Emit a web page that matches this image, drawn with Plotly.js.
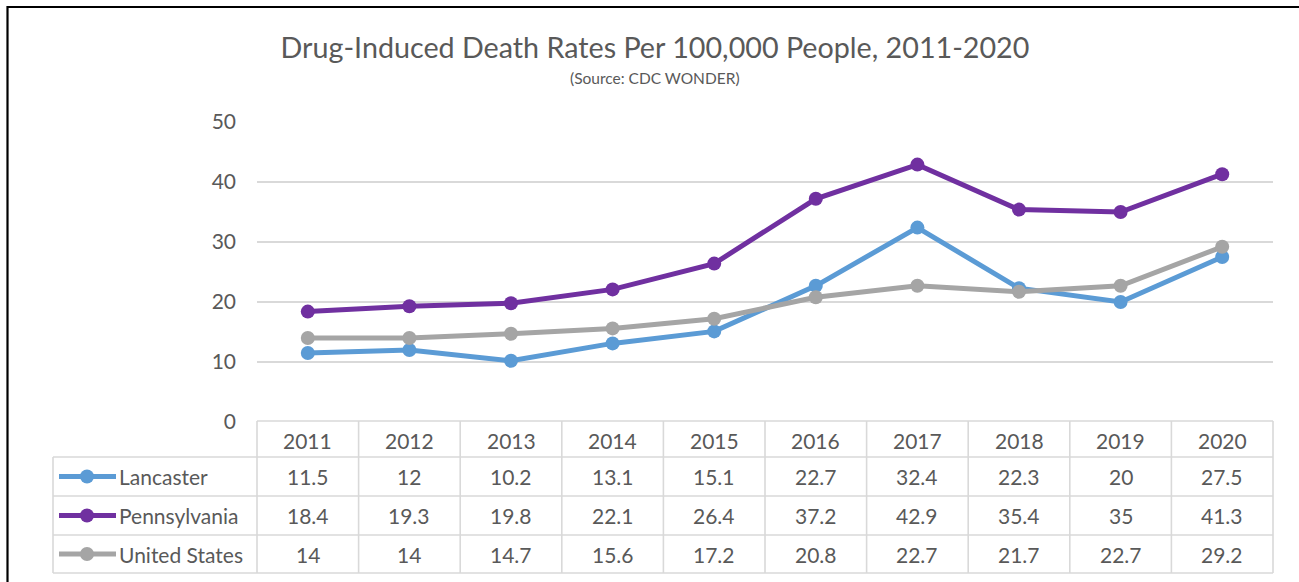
<!DOCTYPE html>
<html>
<head>
<meta charset="utf-8">
<script src="https://cdn.plot.ly/plotly-3.0.1.min.js"></script>
<style>
  html, body { margin: 0; padding: 0; background: #ffffff; }
  #chart { width: 1299px; height: 582px; }
</style>
</head>
<body>
<div id="chart"></div>
<script>
// Drug-induced death rates per 100,000 people
const years = ['2011', '2012', '2013', '2014', '2015', '2016', '2017', '2018', '2019', '2020'];
const lancaster = [11.5, 12, 10.2, 13.1, 15.1, 22.7, 32.4, 22.3, 20, 27.5];
const pennsylvania = [18.4, 19.3, 19.8, 22.1, 26.4, 37.2, 42.9, 35.4, 35, 41.3];
const unitedStates = [14, 14, 14.7, 15.6, 17.2, 20.8, 22.7, 21.7, 22.7, 29.2];
const seriesNames = ['Lancaster', 'Pennsylvania', 'United States'];
const yTicks = [0, 10, 20, 30, 40, 50];

const seriesValues = [lancaster, pennsylvania, unitedStates];
const seriesColors = ['#5B9BD5', '#7030A0', '#A5A5A5'];

const FONT = 'Lato, "Open Sans", "DejaVu Sans", sans-serif';
const TEXT = '#595959';
const GRID = '#D9D9D9';

// plot area geometry (pixels)
const W = 1299, H = 582;
const PL = 257, PR = 1273, PT = 122, PB = 422;
const pw = PR - PL, ph = PB - PT;
const px = p => (p - PL) / pw;   // pixel x -> paper x
const py = p => (PB - p) / ph;   // pixel y -> paper y

// data table geometry (pixels)
const tableLeft = 53;
const rowEdges = [421, 457, 496, 535, 573];
const colW = pw / years.length;

const traces = seriesNames.map((name, i) => ({
  type: 'scatter',
  mode: 'lines+markers',
  name: name,
  x: years,
  y: seriesValues[i],
  line: { color: seriesColors[i], width: 5 },
  marker: { color: seriesColors[i], size: 14 },
  hoverinfo: 'skip'
}));

const shapes = [];
const annotations = [];
const line = (x0, y0, x1, y1, color, width) => shapes.push({
  type: 'line', xref: 'paper', yref: 'paper',
  x0: px(x0), y0: py(y0), x1: px(x1), y1: py(y1),
  line: { color: color, width: width }, layer: 'above'
});

// outer frame (top and left edges)
line(7.5, 7, W + 5, 7, '#000000', 2.2);
line(7.5, 6, 7.5, H + 5, '#000000', 2.2);

// table grid
line(PL, rowEdges[0], PR, rowEdges[0], GRID, 1.6);
for (let r = 1; r < rowEdges.length; r++) line(tableLeft, rowEdges[r], PR, rowEdges[r], GRID, 1.6);
line(tableLeft, rowEdges[1], tableLeft, rowEdges[rowEdges.length - 1], GRID, 1.6);
for (let c = 0; c <= years.length; c++) {
  const xc = PL + c * colW;
  line(xc, rowEdges[0], xc, rowEdges[rowEdges.length - 1], GRID, 1.6);
}

const cellText = (text, xPix, yPix, anchor) => annotations.push({
  xref: 'paper', yref: 'paper', x: px(xPix), y: py(yPix),
  xanchor: anchor || 'center', yanchor: 'middle', showarrow: false,
  text: text, font: { family: FONT, size: 21, color: TEXT }
});

// header row: years
years.forEach((yr, c) => cellText(yr, PL + (c + 0.5) * colW, (rowEdges[0] + rowEdges[1]) / 2 + 1));

// series rows: legend key + values
seriesNames.forEach((name, r) => {
  const yc = (rowEdges[r + 1] + rowEdges[r + 2]) / 2;
  line(59, yc, 116, yc, seriesColors[r], 5);
  shapes.push({
    type: 'circle', xref: 'paper', yref: 'paper',
    x0: px(87 - 7), x1: px(87 + 7), y0: py(yc + 7), y1: py(yc - 7),
    fillcolor: seriesColors[r], line: { width: 0 }, layer: 'above'
  });
  cellText(name, 117, yc, 'left');
  seriesValues[r].forEach((v, c) => cellText(String(v), PL + (c + 0.5) * colW, yc));
});

// subtitle
annotations.push({
  xref: 'paper', yref: 'paper', x: px(655), y: py(78),
  xanchor: 'center', yanchor: 'middle', showarrow: false,
  text: '(Source: CDC WONDER)', font: { family: FONT, size: 15.5, color: TEXT }
});

const layout = {
  width: W, height: H,
  margin: { l: PL, r: W - PR, t: PT, b: H - PB, pad: 0 },
  paper_bgcolor: '#ffffff', plot_bgcolor: '#ffffff',
  showlegend: false,
  title: {
    text: 'Drug-Induced Death Rates Per 100,000 People, 2011-2020',
    x: 655 / W, xanchor: 'center', y: 1 - 48 / H, yanchor: 'middle',
    font: { family: FONT, size: 28.7, color: TEXT }
  },
  xaxis: {
    type: 'category', range: [-0.5, years.length - 0.5],
    showgrid: false, showticklabels: false, showline: false, zeroline: false, ticks: ''
  },
  yaxis: {
    range: [0, 50], tickvals: yTicks, ticktext: yTicks.map(String),
    showgrid: true, gridcolor: GRID, gridwidth: 1.6, zeroline: false, showline: false, ticks: '',
    ticklabelstandoff: 20,
    tickfont: { family: FONT, size: 21, color: TEXT }
  },
  shapes: shapes,
  annotations: annotations
};

Plotly.newPlot('chart', traces, layout, { displayModeBar: false, staticPlot: true });
</script>
</body>
</html>
